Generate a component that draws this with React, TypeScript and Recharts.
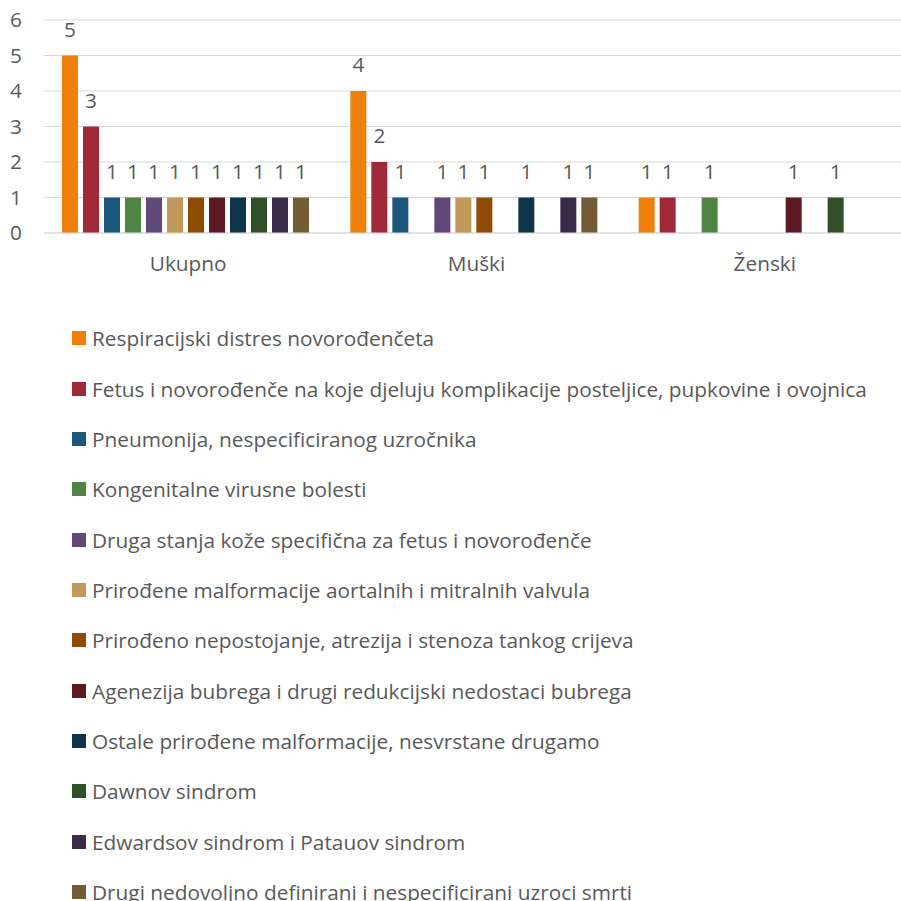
// Grouped bar chart: causes of neonatal death by sex, with a vertical legend below.

import { Bar, BarChart, CartesianGrid, LabelList, Legend, XAxis, YAxis } from "recharts";

const categories = ["Ukupno", "Muški", "Ženski"];

const seriesNames = [
  "Respiracijski distres novorođenčeta",
  "Fetus i novorođenče na koje djeluju komplikacije posteljice, pupkovine i ovojnica",
  "Pneumonija, nespecificiranog uzročnika",
  "Kongenitalne virusne bolesti",
  "Druga stanja kože specifična za fetus i novorođenče",
  "Prirođene malformacije aortalnih i mitralnih valvula",
  "Prirođeno nepostojanje, atrezija i stenoza tankog crijeva",
  "Agenezija bubrega i drugi redukcijski nedostaci bubrega",
  "Ostale prirođene malformacije, nesvrstane drugamo",
  "Dawnov sindrom",
  "Edwardsov sindrom i Patauov sindrom",
  "Drugi nedovoljno definirani i nespecificirani uzroci smrti",
];

const seriesColors = [
  "#F07F09",
  "#9F2936",
  "#1B587C",
  "#4E8542",
  "#604878",
  "#C19859",
  "#904C05",
  "#5F1920",
  "#10354A",
  "#2F5028",
  "#3A2B48",
  "#745B35",
];

// one value per category (Ukupno, Muški, Ženski); null = no bar
const ukupno = [5, 3, 1, 1, 1, 1, 1, 1, 1, 1, 1, 1];
const muski = [4, 2, 1, null, 1, 1, 1, null, 1, null, 1, 1];
const zenski = [1, 1, null, 1, null, null, null, 1, null, 1, null, null];

const yTicks = [0, 1, 2, 3, 4, 5, 6];

const columns = [ukupno, muski, zenski];
const data = categories.map((name, ci) => {
  const row: Record<string, string | number | null> = { name };
  seriesNames.forEach((_, si) => {
    row[`s${si}`] = columns[ci][si];
  });
  return row;
});

const FONT = "'Open Sans', sans-serif";
const TEXT = "#595959";
const FS = 20.8;

function LegendList({ payload }: any) {
  const items = [...(payload || [])].sort(
    (a: any, b: any) => seriesNames.indexOf(a.value) - seriesNames.indexOf(b.value)
  );
  return (
    <ul style={{ listStyle: "none", margin: 0, padding: 0, fontFamily: FONT, textAlign: "left" }}>
      {items.map((p: any) => (
        <li
          key={p.value}
          style={{
            height: 50.36,
            display: "flex",
            alignItems: "center",
            whiteSpace: "nowrap",
            fontSize: FS,
            color: TEXT,
          }}
        >
          <span
            style={{
              display: "inline-block",
              flex: "none",
              width: 14,
              height: 14,
              background: p.color,
              marginRight: 6,
            }}
          />
          {p.value}
        </li>
      ))}
    </ul>
  );
}

export default function App() {
  return (
    <div
      style={{
        position: "absolute",
        left: 0,
        top: 0,
        width: 901,
        height: 901,
        overflow: "hidden",
        background: "#fff",
      }}
    >
      <BarChart
        width={909}
        height={901}
        data={data}
        margin={{ top: 20, right: 0, left: 1, bottom: 638 }}
        barGap={5}
        barCategoryGap={18}
      >
        <CartesianGrid vertical={false} stroke="#d9d9d9" />
        <XAxis
          dataKey="name"
          height={30}
          tickLine={false}
          tickSize={0}
          tickMargin={23}
          axisLine={{ stroke: "#d9d9d9" }}
          tick={{ fontSize: FS, fill: TEXT, fontFamily: FONT }}
        />
        <YAxis
          width={43}
          domain={[0, 6]}
          ticks={yTicks}
          axisLine={false}
          tickLine={false}
          tickSize={0}
          tickMargin={22}
          tick={{ fontSize: FS, fill: TEXT, fontFamily: FONT }}
        />
        <Legend
          layout="horizontal"
          verticalAlign="middle"
          align="center"
          itemSorter={null as any}
          wrapperStyle={{ top: 313, left: 72, width: 829 }}
          content={<LegendList />}
        />
        {seriesNames.map((name, si) => (
          <Bar
            key={name}
            dataKey={`s${si}`}
            name={name}
            fill={seriesColors[si]}
            isAnimationActive={false}
          >
            <LabelList
              dataKey={`s${si}`}
              position="top"
              offset={19}
              style={{ fontSize: FS, fill: TEXT, fontFamily: FONT }}
            />
          </Bar>
        ))}
      </BarChart>
    </div>
  );
}
